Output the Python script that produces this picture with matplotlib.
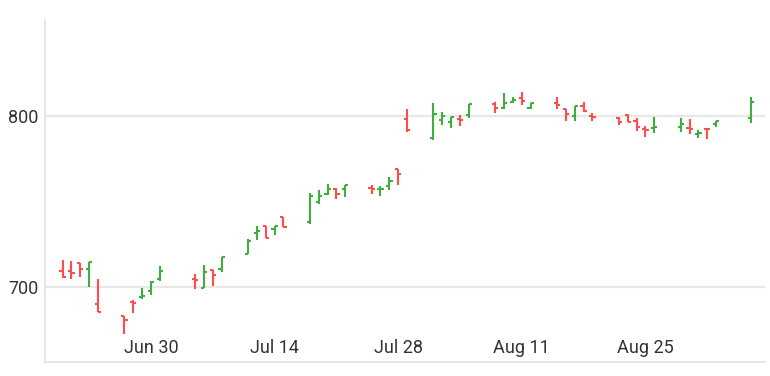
import matplotlib
matplotlib.use("Agg")
import matplotlib.pyplot as plt
import matplotlib.dates as mdates
import numpy as np
import pandas as pd

# OHLC data (daily, Jun 20 - Sep 6 2016)
dates = ["2016-06-20", "2016-06-21", "2016-06-22", "2016-06-23", "2016-06-24",
         "2016-06-27", "2016-06-28", "2016-06-29", "2016-06-30", "2016-07-01",
         "2016-07-05", "2016-07-06", "2016-07-07", "2016-07-08",
         "2016-07-11", "2016-07-12", "2016-07-13", "2016-07-14", "2016-07-15",
         "2016-07-18", "2016-07-19", "2016-07-20", "2016-07-21", "2016-07-22",
         "2016-07-25", "2016-07-26", "2016-07-27", "2016-07-28", "2016-07-29",
         "2016-08-01", "2016-08-02", "2016-08-03", "2016-08-04", "2016-08-05",
         "2016-08-08", "2016-08-09", "2016-08-10", "2016-08-11", "2016-08-12",
         "2016-08-15", "2016-08-16", "2016-08-17", "2016-08-18", "2016-08-19",
         "2016-08-22", "2016-08-23", "2016-08-24", "2016-08-25", "2016-08-26",
         "2016-08-29", "2016-08-30", "2016-08-31", "2016-09-01", "2016-09-02",
         "2016-09-06"]
opens = [709.7, 709.7, 714.0, 710.5, 690.3,
         683.1, 691.3, 694.5, 697.8, 705.0,
         704.7, 699.4, 709.9, 710.5,
         719.2, 731.8, 735.5, 733.8, 740.8,
         737.9, 749.5, 754.2, 757.1, 757.1,
         757.7, 757.1, 758.9, 768.8, 797.9,
         786.8, 797.5, 796.3, 798.1, 800.2,
         806.6, 804.3, 807.8, 810.5, 804.7,
         807.4, 803.7, 799.8, 805.7, 799.8,
         798.5, 800.4, 797.1, 792.2, 792.7,
         793.4, 792.7, 789.3, 792.4, 795.2,
         798.5]
highs = [715.9, 715.3, 714.2, 714.6, 704.7,
         683.3, 692.6, 699.4, 703.7, 712.4,
         707.8, 712.8, 709.9, 717.5,
         728.3, 735.5, 735.5, 735.5, 740.8,
         754.8, 756.5, 760.2, 757.9, 759.4,
         759.4, 759.0, 764.3, 768.8, 803.9,
         807.4, 802.2, 799.4, 800.2, 806.8,
         807.8, 813.2, 810.7, 814.0, 807.2,
         810.7, 803.9, 805.7, 808.0, 801.7,
         799.1, 800.8, 798.5, 794.2, 799.1,
         798.5, 798.1, 791.7, 792.8, 796.9,
         810.7]
lows = [705.6, 705.0, 706.2, 700.3, 685.4,
        672.6, 684.8, 693.2, 695.3, 703.8,
        699.2, 699.4, 700.9, 708.7,
        719.2, 727.6, 728.9, 730.7, 735.0,
        736.7, 748.7, 754.0, 751.6, 752.8,
        754.5, 753.0, 756.7, 759.4, 790.3,
        785.7, 794.8, 793.0, 794.2, 798.5,
        801.7, 803.9, 807.2, 806.2, 803.9,
        804.1, 797.1, 796.7, 802.0, 797.1,
        794.4, 796.5, 791.3, 787.8, 789.7,
        790.7, 789.5, 787.2, 786.6, 793.4,
        795.9]
closes = [705.8, 708.5, 710.7, 714.6, 685.4,
          680.8, 690.8, 695.1, 703.3, 709.7,
          704.3, 708.7, 707.0, 717.5,
          726.8, 732.6, 728.9, 735.5, 735.3,
          753.0, 753.0, 757.3, 754.2, 759.4,
          757.4, 757.5, 761.9, 765.9, 791.5,
          800.8, 800.0, 799.1, 797.7, 806.6,
          804.7, 807.4, 809.3, 808.7, 807.2,
          806.1, 801.2, 805.7, 802.6, 799.5,
          796.3, 796.5, 793.2, 791.7, 793.2,
          795.3, 792.2, 790.1, 792.0, 796.9,
          808.0]

x_ticks = ["2016-06-30", "2016-07-14", "2016-07-28", "2016-08-11", "2016-08-25"]
x_tick_labels = ["Jun 30", "Jul 14", "Jul 28", "Aug 11", "Aug 25"]
y_ticks = [700, 800]

# 색상
up_color = "#3fae3f"
down_color = "#ff4d4d"

x = mdates.date2num(pd.to_datetime(dates))
o = np.array(opens)
c = np.array(closes)
colors = np.where(c >= o, up_color, down_color)

fig = plt.figure(figsize=(7.7, 3.76), dpi=100)
ax = fig.add_axes([45 / 770, 14 / 376, 720 / 770, 342 / 376])

tick_w = 0.36  # 시가/종가 눈금 길이 (일)
ax.vlines(x, lows, highs, colors=colors, linewidth=1.5, zorder=3)
ax.hlines(o, x - tick_w, x, colors=colors, linewidth=1.5, zorder=3)
ax.hlines(c, x, x + tick_w, colors=colors, linewidth=1.5, zorder=3)

x0 = mdates.date2num(pd.Timestamp("2016-06-18"))
ax.set_xlim(x0, x0 + 81.55)
ax.set_ylim(656.5, 855.8)

ax.set_yticks(y_ticks)
ax.set_yticklabels([str(v) for v in y_ticks])
ax.set_xticks(mdates.date2num(pd.to_datetime(x_ticks)))
ax.set_xticklabels(x_tick_labels)

ax.grid(axis="y", color="#e8e8e8", linewidth=1.6, zorder=0)
ax.set_axisbelow(True)

for s in ["top", "right"]:
    ax.spines[s].set_visible(False)
for s in ["left", "bottom"]:
    ax.spines[s].set_color("#e3e3e3")
    ax.spines[s].set_linewidth(1.2)

ax.tick_params(axis="y", length=0, pad=4.5, labelsize=13, labelcolor="#333333")
ax.tick_params(axis="x", length=0, pad=-16.5, labelsize=13, labelcolor="#333333")
for lab in ax.get_xticklabels() + ax.get_yticklabels():
    lab.set_fontfamily("Roboto")

fig.savefig("out.png", dpi=100)
